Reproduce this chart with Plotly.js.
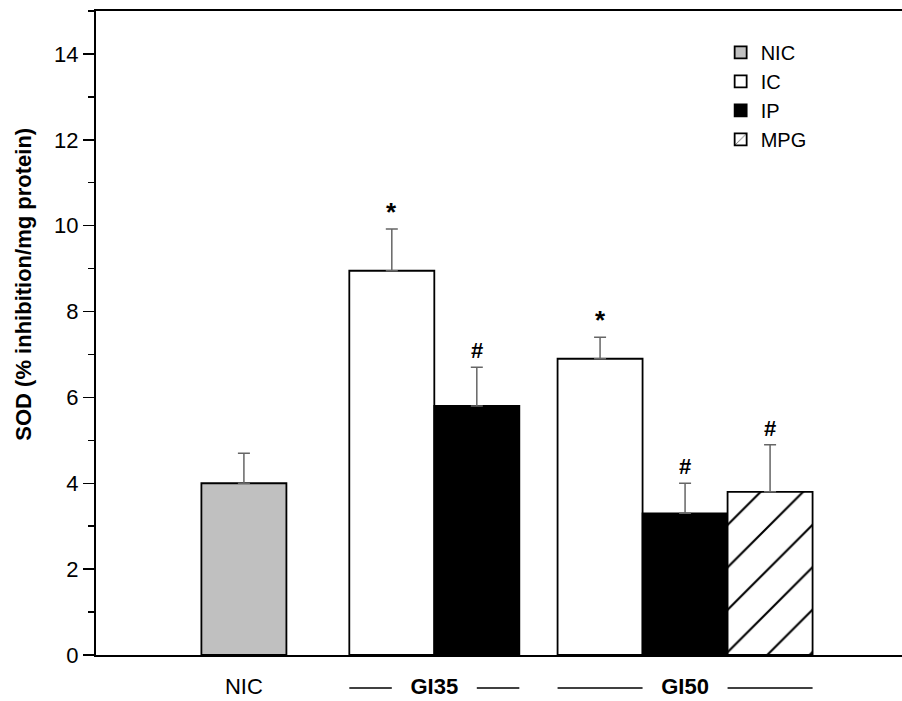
<!DOCTYPE html>
<html>
<head>
<meta charset="utf-8">
<script src="https://cdn.plot.ly/plotly-3.0.1.min.js"></script>
<style>html,body{margin:0;padding:0;background:#fff}#chart{width:902px;height:701px}</style>
</head>
<body>
<div id="chart"></div>
<script>
// ---- data ----
const groups = ["NIC", "GI35", "GI50"];
const seriesNames = ["NIC", "IC", "IP", "MPG"];
const yTitle = "SOD (% inhibition/mg protein)";
const yTicks = [0, 2, 4, 6, 8, 10, 12, 14];
const nicGroups = ["NIC"];
const nicValues = [4.0];
const nicErrors = [0.7];
const icGroups = ["GI35", "GI50"];
const icValues = [8.95, 6.9];
const icErrors = [0.97, 0.5];
const icMarks = ["*", "*"];
const ipGroups = ["GI35", "GI50"];
const ipValues = [5.8, 3.3];
const ipErrors = [0.9, 0.7];
const ipMarks = ["#", "#"];
const mpgGroups = ["GI50"];
const mpgValues = [3.8];
const mpgErrors = [1.1];
const mpgMarks = ["#"];

// ---- layout helpers ----
const groupStart = {NIC: 1.74, GI35: 3.48, GI50: 5.93};
const slot = {NIC: 0, IC: 0, IP: 1, MPG: 2};
const FONT = "Liberation Sans, Arial, sans-serif";
const xOf = (g, s) => groupStart[g] + slot[s];

function barTrace(name, gs, vals, errs, style) {
  return Object.assign({
    type: "bar",
    name: name,
    x: gs.map(g => xOf(g, name)),
    y: vals,
    width: gs.map(() => 1),
    error_y: {type: "data", symmetric: false, array: errs, arrayminus: errs.map(() => 0),
              color: "#666", thickness: 1.5, width: 6},
    hoverinfo: "y"
  }, style);
}

const traces = [
  barTrace("NIC", nicGroups, nicValues, nicErrors,
    {marker: {color: "#c0c0c0", line: {color: "#000", width: 1.8}}}),
  barTrace("IC", icGroups, icValues, icErrors,
    {marker: {color: "#ffffff", line: {color: "#000", width: 1.8}}}),
  barTrace("IP", ipGroups, ipValues, ipErrors,
    {marker: {color: "#000000", line: {color: "#000", width: 1.8}}}),
  barTrace("MPG", mpgGroups, mpgValues, mpgErrors,
    {marker: {color: "#ffffff", line: {color: "#000", width: 1.8},
      pattern: {shape: "/", size: 30, solidity: 0.07, fgcolor: "#000", fgopacity: 1, bgcolor: "#fff", fillmode: "replace"}}})
];

// group tick positions = mean of bar centres in each group
const groupBars = {NIC: [], GI35: [], GI50: []};
[["NIC", nicGroups], ["IC", icGroups], ["IP", ipGroups], ["MPG", mpgGroups]].forEach(([s, gs]) => {
  gs.forEach(g => groupBars[g].push(xOf(g, s)));
});
const tickvals = groups.map(g => groupBars[g].reduce((a, b) => a + b, 0) / groupBars[g].length);
const ticktext = groups.map(g => g === "NIC" ? g : "<b>" + g + "</b>");

// significance marks
const annotations = [];
function addMarks(s, gs, vals, errs, marks) {
  gs.forEach((g, i) => annotations.push({
    x: xOf(g, s), y: vals[i] + errs[i], xref: "x", yref: "y",
    text: "<b>" + marks[i] + "</b>", showarrow: false, yanchor: "bottom", yshift: marks[i] === "*" ? 0 : 2,
    font: {family: FONT, size: marks[i] === "*" ? 26 : 22, color: "#000"}
  }));
}
addMarks("IC", icGroups, icValues, icErrors, icMarks);
addMarks("IP", ipGroups, ipValues, ipErrors, ipMarks);
addMarks("MPG", mpgGroups, mpgValues, mpgErrors, mpgMarks);

// y axis title (placed as rotated text, slightly above centre like the original)
annotations.push({
  text: "<b>" + yTitle + "</b>", xref: "paper", yref: "paper", x: 0, y: 0.575,
  xanchor: "center", yanchor: "middle", xshift: -72, textangle: -90, showarrow: false,
  font: {family: FONT, size: 22, color: "#000"}
});

// bracket lines around GI group labels
const shapes = [];
groups.filter(g => g !== "NIC").forEach(g => {
  const lo = Math.min(...groupBars[g]) - 0.5, hi = Math.max(...groupBars[g]) + 0.5;
  const c = tickvals[groups.indexOf(g)];
  const gap = 0.5;
  [[lo, c - gap], [c + gap, hi]].forEach(([a, b]) => shapes.push({
    type: "line", xref: "x", yref: "paper", x0: a, x1: b, y0: -0.0512, y1: -0.0512,
    line: {color: "#000", width: 1.5}
  }));
});

const layout = {
  width: 902, height: 701,
  margin: {l: 96, r: 0, t: 11, b: 46},
  paper_bgcolor: "#fff", plot_bgcolor: "#fff",
  font: {family: FONT, size: 22, color: "#000"},
  barmode: "overlay",
  showlegend: true,
  legend: {x: 0.775, y: 0.966, xanchor: "left", yanchor: "top", bgcolor: "rgba(0,0,0,0)",
           font: {family: FONT, size: 20}, traceorder: "normal", itemwidth: 30, tracegroupgap: 0},
  xaxis: {range: [0, 9.482], tickvals: tickvals, ticktext: ticktext, ticks: "",
          ticklabelstandoff: 11,
          showline: true, linecolor: "#000", linewidth: 2, mirror: true,
          showgrid: false, zeroline: false, tickfont: {family: FONT, size: 22}, fixedrange: true},
  yaxis: {range: [0, 15], tickvals: yTicks, ticks: "outside", ticklen: 11,
          tickwidth: 1.5, tickcolor: "#000",
          minor: {dtick: 1, ticks: "outside", ticklen: 6, tickwidth: 1.5, tickcolor: "#000"},
          showline: true, linecolor: "#000", linewidth: 2, showgrid: false, zeroline: false,
          tickfont: {family: FONT, size: 22}, fixedrange: true},
  annotations: annotations,
  shapes: shapes
};

Plotly.newPlot("chart", traces, layout, {displayModeBar: false, staticPlot: true});
</script>
</body>
</html>
